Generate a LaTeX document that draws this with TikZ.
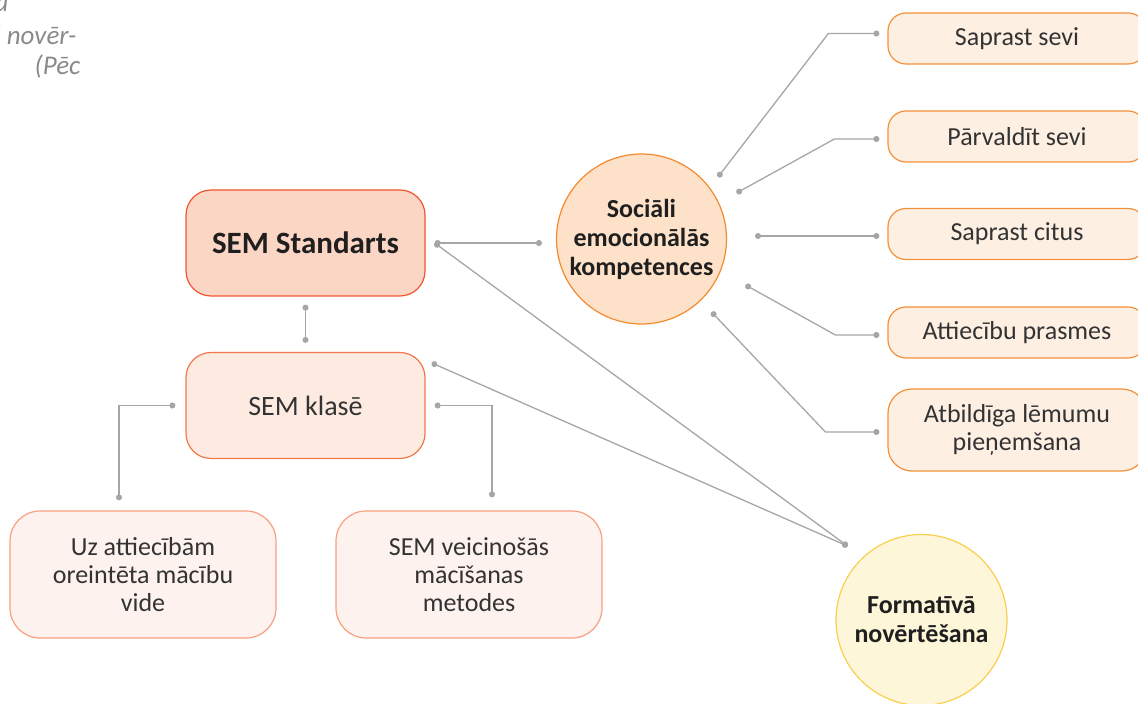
\documentclass[tikz,border=0pt]{standalone}
\usepackage{fontspec}
\setmainfont{Carlito}
\usetikzlibrary{arrows.meta,calc}

\definecolor{wire}{HTML}{A6A6A6}
\definecolor{ink}{HTML}{333333}
\definecolor{capgray}{HTML}{8A8A8A}
\definecolor{stdfill}{HTML}{FCD6C5}
\definecolor{stdline}{HTML}{EF5630}
\definecolor{klsfill}{HTML}{FDEBE2}
\definecolor{klsline}{HTML}{F2784B}
\definecolor{envfill}{HTML}{FEF2EE}
\definecolor{envline}{HTML}{F6A07F}
\definecolor{skfill}{HTML}{FEEFE3}
\definecolor{skline}{HTML}{F4903A}
\definecolor{socfill}{HTML}{FDE2C9}
\definecolor{socline}{HTML}{F48A2E}
\definecolor{frmfill}{HTML}{FEF6D9}
\definecolor{frmline}{HTML}{F9CF4F}

\begin{document}
\begin{tikzpicture}[x=0.5pt,y=-0.5pt,line width=0.6pt,
  box/.style={draw,align=center,inner sep=0pt,text=ink,font=\fontsize{13}{14}\selectfont},
  skill/.style={box,draw=skline,fill=skfill,rounded corners=9pt,minimum width=129pt,minimum height=25.5pt},
  ball/.style={circle,draw,align=center,inner sep=0pt,text=black!88,font=\bfseries\fontsize{13}{14.5}\selectfont},
  caption/.style={anchor=base east,inner sep=0pt,text=capgray,font=\itshape\fontsize{13.5}{15}\selectfont},
  link/.style={draw=wire,line width=0.65pt,{Circle[length=3pt]}-{Circle[length=3pt]}}]
\path[use as bounding box,clip] (0,0) rectangle (1138,704);
% caption left over from the page
\node[caption] (cap1) at (9,12) {a};
\node[caption] (cap2) at (77,45) {d novēr-};
\node[caption] (cap3) at (81,75) {(Pēc};
% left branch
\node[box,draw=stdline,fill=stdfill,rounded corners=12.5pt,minimum width=119.5pt,minimum height=53pt,font=\bfseries\fontsize{15.5}{17}\selectfont,text=black!88] (std) at (305.5,243) {SEM Standarts};
\node[box,draw=klsline,fill=klsfill,rounded corners=12.5pt,minimum width=119.5pt,minimum height=53pt,font=\fontsize{14}{16}\selectfont] (kls) at (305.5,405.5) {SEM klasē};
\node[box,draw=envline,fill=envfill,rounded corners=15pt,minimum width=133pt,minimum height=63.5pt] (envA) at (143,574.5) {Uz attiecībām\\oreintēta mācību\\vide};
\node[box,draw=envline,fill=envfill,rounded corners=15pt,minimum width=133pt,minimum height=63.5pt] (envB) at (469,574.5) {SEM veicinošās\\mācīšanas\\metodes};
% circles
\node[ball,draw=socline,fill=socfill,minimum size=85pt] (soc) at (641.5,239) {Sociāli\\emocionālās\\kompetences};
\node[ball,draw=frmline,fill=frmfill,minimum size=85.5pt] (form) at (921.5,620) {Formatīvā\\novērtēšana};
% right branch
\node[skill] (s1) at (1017,38.5) {Saprast sevi};
\node[skill] (s2) at (1017,136.5) {Pārvaldīt sevi};
\node[skill] (s3) at (1017,234) {Saprast citus};
\node[skill] (s4) at (1017,332.5) {Attiecību prasmes};
\node[skill,minimum height=41pt,rounded corners=12pt] (s5) at (1017,430) {Atbildīga lēmumu\\pieņemšana};
% connectors
\coordinate (a1) at ($(soc)+(76.5,-62)$);
\coordinate (a2) at ($(soc)+(95,-46)$);
\coordinate (a3) at ($(soc)+(113.5,-3)$);
\coordinate (a4) at ($(soc)+(104,46)$);
\coordinate (a5) at ($(soc)+(70,73)$);
\coordinate (b1) at ($(s1.west)+(-8,-5)$);
\coordinate (b2) at ($(s2.west)+(-8,2.5)$);
\coordinate (b3) at ($(s3.west)+(-8,2)$);
\coordinate (b4) at ($(s4.west)+(-8,2.5)$);
\coordinate (b5) at ($(s5.west)+(-8,2)$);
\coordinate (fdot) at ($(form.135)+(-13,-13)$);
\foreach \i/\dx in {1/51,2/45,4/44,5/54}{\draw[link] (a\i) -- ($(b\i)+(-\dx,0)$) -- (b\i);}
\draw[link] (a3) -- (b3);
\draw[link] ([xshift=4.5pt]std.east) -- ([xshift=-7pt]soc.west |- std.east);
\draw[link] ([xshift=4.5pt]std.east) -- (fdot);
\draw[link] ([shift={(6,11)}]kls.north east) -- (fdot);
\draw[link] ([yshift=-4pt]std.south) -- ([yshift=4.5pt]kls.north);
\draw[link] ([xshift=-5pt]kls.west) -| ([shift={(-24,-10)}]envA.north);
\draw[link] ([xshift=4.5pt]kls.east) -| ([shift={(23,-13)}]envB.north);
\end{tikzpicture}
\end{document}
